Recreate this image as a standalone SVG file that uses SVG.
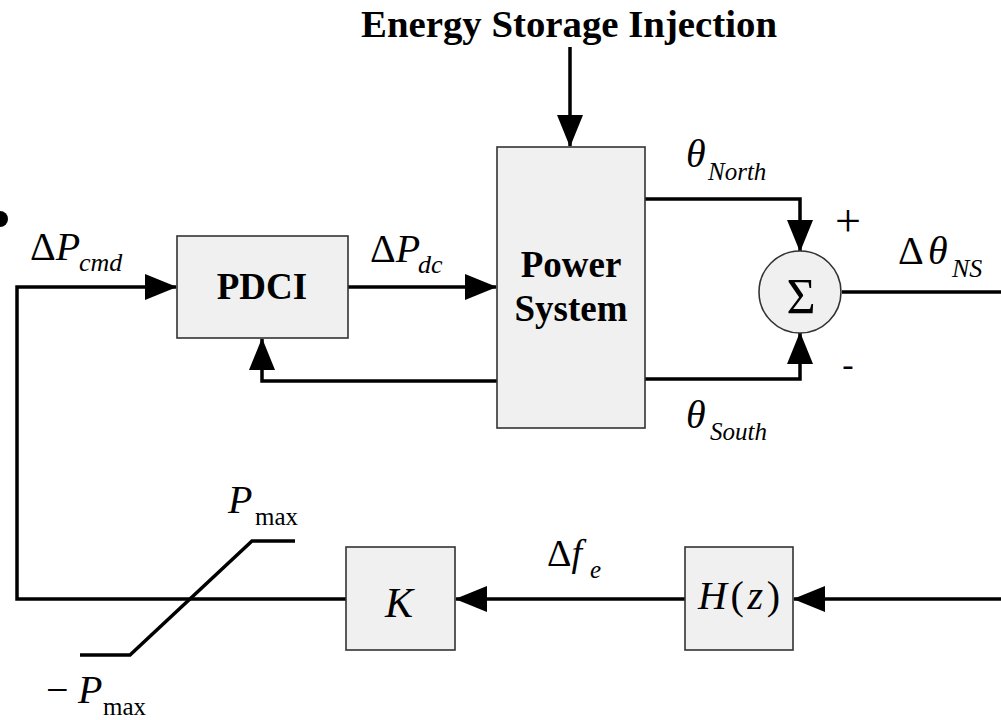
<svg xmlns="http://www.w3.org/2000/svg" width="1001" height="720" viewBox="0 0 1001 720">
<defs>
<style>
.box{fill:#f0f0f0;stroke:#333;stroke-width:1.6}
.wire{fill:none;stroke:#000;stroke-width:3.5}
.t{font-family:"Liberation Serif","Times New Roman",serif;fill:#000}
.b{font-weight:bold}
.i{font-style:italic}
</style>
<marker id="ah" markerUnits="userSpaceOnUse" markerWidth="32" markerHeight="26" refX="31" refY="13" orient="auto">
<path d="M0,0 L32,13 L0,26 z" fill="#000"/>
</marker>
</defs>
<rect width="1001" height="720" fill="#fff"/>
<circle cx="0" cy="219" r="8" fill="#000"/>
<text class="t b" x="569" y="37" font-size="38" text-anchor="middle" textLength="416" lengthAdjust="spacingAndGlyphs">Energy Storage Injection</text>
<g id="connectors">
<path class="wire" d="M570,47 V146" marker-end="url(#ah)"/>
<path class="wire" d="M346,599 H17 V287 H176" marker-end="url(#ah)"/>
<path class="wire" d="M348,287 H496" marker-end="url(#ah)"/>
<path class="wire" d="M497,381 H262 V339" marker-end="url(#ah)"/>
<path class="wire" d="M645,199 H800 V251" marker-end="url(#ah)"/>
<path class="wire" d="M645,379 H800 V333" marker-end="url(#ah)"/>
<path class="wire" d="M842,292 H1001"/>
<path class="wire" d="M685,599 H456" marker-end="url(#ah)"/>
<path class="wire" d="M1001,599 H794" marker-end="url(#ah)"/>
<polyline class="wire" stroke-width="3" points="80,655 130,655 252,541 295,541"/>
</g>
<g id="pdci">
<rect class="box" x="177" y="236" width="171" height="102"/>
<text class="t b" x="262" y="299" font-size="37" text-anchor="middle">PDCI</text>
</g>
<g id="power-system">
<rect class="box" x="497" y="147" width="148" height="281"/>
<text class="t b" x="571" y="277" font-size="37" text-anchor="middle">Power</text>
<text class="t b" x="571" y="321" font-size="37" text-anchor="middle">System</text>
</g>
<g id="sum">
<circle class="box" cx="800" cy="292" r="41"/>
<text class="t" x="801" y="313" font-size="50" text-anchor="middle">Σ</text>
<text class="t" x="848" y="236" font-size="46" text-anchor="middle">+</text>
<text class="t" x="848" y="376" font-size="34" text-anchor="middle" font-family="Liberation Sans, Arial, sans-serif">-</text>
</g>
<g id="k">
<rect class="box" x="346" y="547" width="109" height="103"/>
<text class="t i" x="399" y="617" font-size="42" text-anchor="middle">K</text>
</g>
<g id="hz">
<rect class="box" x="685" y="547" width="108" height="103"/>
<text class="t" x="739" y="609" font-size="40" text-anchor="middle" textLength="82"><tspan class="i">H</tspan>(<tspan class="i">z</tspan>)</text>
</g>
<g id="labels">
<text class="t" x="30" y="260" font-size="40">Δ<tspan class="i">P</tspan></text>
<text class="t i" x="79" y="271" font-size="26">cmd</text>
<text class="t" x="370" y="262" font-size="40">Δ<tspan class="i">P</tspan></text>
<text class="t i" x="418" y="273" font-size="26">dc</text>
<text class="t i" x="686" y="167" font-size="40">θ</text>
<text class="t i" x="708" y="180" font-size="25">North</text>
<text class="t i" x="686" y="428" font-size="40">θ</text>
<text class="t i" x="710" y="440" font-size="25">South</text>
<text class="t" x="898" y="264" font-size="40">Δ</text>
<text class="t i" x="928" y="264" font-size="40">θ</text>
<text class="t i" x="952" y="277" font-size="26">NS</text>
<text class="t" x="547" y="566" font-size="38">Δ<tspan class="i">f</tspan></text>
<text class="t i" x="590" y="578" font-size="25">e</text>
<text class="t i" x="228" y="513" font-size="40">P</text>
<text class="t" x="255" y="525" font-size="25">max</text>
<text class="t" x="46" y="703" font-size="40">−</text>
<text class="t i" x="78" y="703" font-size="40">P</text>
<text class="t" x="103" y="715" font-size="25">max</text>
</g>
</svg>
